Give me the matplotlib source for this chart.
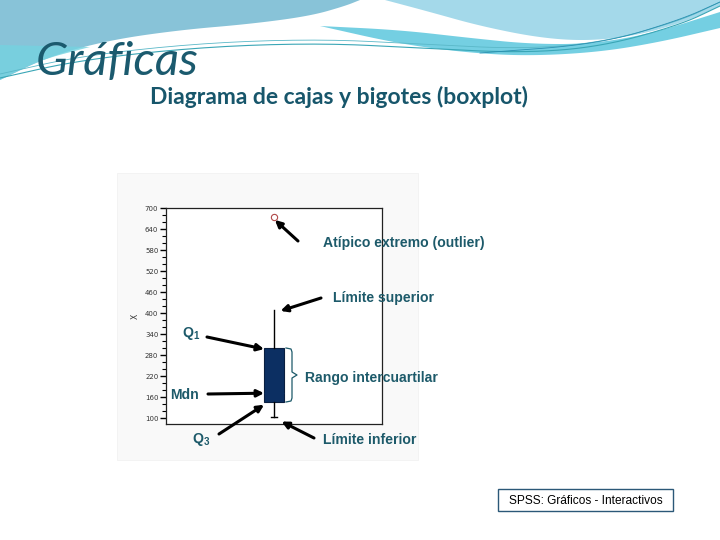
import matplotlib
matplotlib.use("Agg")
import matplotlib.pyplot as plt
from matplotlib.patches import Rectangle, Polygon
import numpy as np

# ---- data ----
whisker_low = 103
q_low = 146
median = 171
q_high = 300
whisker_high = 409
outliers = [674]
y_ticks = [100, 160, 220, 280, 340, 400, 460, 520, 580, 640, 700]
y_min, y_max = 83, 700

plt.rcParams['mathtext.fontset'] = 'custom'
plt.rcParams['mathtext.rm'] = 'Liberation Sans'
plt.rcParams['mathtext.bf'] = 'Liberation Sans:bold'
plt.rcParams['mathtext.default'] = 'regular'

W, H = 720, 540
fig = plt.figure(figsize=(7.2, 5.4), dpi=100)

def fx(px):
    return px / W

def fy(py):
    return 1 - py / H

def smooth(pts, n=4):
    """Chaikin smoothing of an open polyline (decoration only)."""
    p = np.asarray(pts, dtype=float)
    for _ in range(n):
        q = 0.75 * p[:-1] + 0.25 * p[1:]
        r = 0.25 * p[:-1] + 0.75 * p[1:]
        mid = np.empty((2 * len(q), 2))
        mid[0::2] = q
        mid[1::2] = r
        p = np.vstack([p[:1], mid, p[-1:]])
    return p

# ---- background decoration axes ----
bg = fig.add_axes([0, 0, 1, 1], zorder=0)
bg.set_xlim(0, W)
bg.set_ylim(H, 0)
bg.axis('off')

# top-left blue region
b1 = smooth([(0, 80), (50, 56), (110, 40), (180, 30), (250, 24), (310, 16), (345, 6), (360, 0)])
bg.add_patch(Polygon(np.vstack([b1, [[0, 0]]]), closed=True, facecolor='#88c3d8', edgecolor='none'))
# cyan lower-left tint
bg.add_patch(Polygon(np.vstack([[[0, 80]], smooth([(0, 80), (40, 60), (90, 47)]), [[0, 45]]]),
                     closed=True, facecolor='#74d3e0', edgecolor='none', alpha=0.8))

# cyan band top-right (tapering to the left)
band_top = smooth([(320, 26), (400, 30), (470, 38), (530, 44), (590, 44), (650, 34), (720, 12)])
band_bot = smooth([(320, 26), (400, 44), (470, 53), (530, 56), (600, 52), (660, 42), (720, 28)])
bg.add_patch(Polygon(np.vstack([band_top, band_bot[::-1]]), closed=True,
                     facecolor='#74cfe2', edgecolor='none'))
# light blue top-right region
t_edge = smooth([(385, 0), (430, 12), (480, 26), (540, 38), (590, 41), (640, 35), (690, 20), (720, 6)])
bg.add_patch(Polygon(np.vstack([t_edge, [[720, 0]]]), closed=True, facecolor='#a4d9ea', edgecolor='none'))
# thin teal lines
l1 = smooth([(0, 78), (80, 60), (200, 47), (320, 43), (420, 48), (520, 53), (600, 47), (680, 25), (720, 6)])
bg.plot(l1[:, 0], l1[:, 1], color='#3aa6b6', lw=0.8)
bg.plot(l1[:, 0], l1[:, 1] - 4, color='#5ab8c8', lw=0.6)
l2 = smooth([(480, 53), (600, 44), (680, 20), (720, 2)])
bg.plot(l2[:, 0], l2[:, 1], color='#2a8fb0', lw=0.6)

# chart image background
bg.add_patch(Rectangle((117, 173), 301, 287, facecolor='#f9f9f9', edgecolor='#f0f0f0', lw=0.5))

# ---- titles ----
bg.text(36, 62, 'Gráficas', fontsize=34, style='italic', family='Lato',
        color='#1b5a6e', va='center', ha='left')
bg.text(150, 97, 'Diagrama de cajas y bigotes (boxplot)', fontsize=16.5, weight='bold',
        family='Lato', color='#17566b', va='center', ha='left')

# SPSS box
bg.add_patch(Rectangle((498, 489), 175, 22, facecolor='white', edgecolor='#2b5878', lw=1))
bg.text(586, 500.5, 'SPSS: Gráficos - Interactivos', fontsize=8.6, family='Liberation Sans',
        color='black', ha='center', va='center')

# ---- boxplot axes ----
left, right, top, bottom = 166, 382, 208, 424
ax = fig.add_axes([fx(left), fy(bottom), (right - left) / W, (bottom - top) / H], zorder=2)
ax.set_facecolor('white')
stats = [dict(med=median, q1=q_low, q3=q_high, whislo=whisker_low, whishi=whisker_high,
              fliers=outliers)]
art = ax.bxp(stats, positions=[0.5], widths=0.088, patch_artist=True, capwidths=0.025,
             boxprops=dict(facecolor='#0c2f62', edgecolor='#0a1f40', lw=0.8),
             medianprops=dict(color='#0c2f62', lw=1),
             whiskerprops=dict(color='black', lw=1),
             capprops=dict(color='black', lw=1),
             flierprops=dict(marker='o', markersize=4.5, markerfacecolor='none',
                             markeredgecolor='#b04848', markeredgewidth=0.8))
art['caps'][1].set_visible(False)
ax.set_xlim(0, 1)
ax.set_ylim(y_min, y_max)
ax.set_xticks([])
ax.set_yticks(y_ticks)
ax.set_yticklabels([str(v) for v in y_ticks], fontsize=5, color='#333333', family='DejaVu Sans')
ax.set_yticks(np.arange(100, 701, 20), minor=True)
ax.tick_params(axis='y', which='major', length=4, width=1, pad=1.5)
ax.tick_params(axis='y', which='minor', length=3, width=0.8)
for s in ax.spines.values():
    s.set_linewidth(0.9)
    s.set_color('#222222')
ax.set_ylabel('X', fontsize=5.5, color='#333333', labelpad=4)

# ---- overlay annotations ----
ov = fig.add_axes([0, 0, 1, 1], zorder=5)
ov.set_xlim(0, W)
ov.set_ylim(H, 0)
ov.axis('off')
ov.patch.set_alpha(0)

tc = '#1d5a6a'
tfont = dict(fontsize=10.1, family='Liberation Sans', color=tc, weight='bold')
aprops = dict(arrowstyle='-|>', color='black', lw=2.2, mutation_scale=10,
              shrinkA=0, shrinkB=0)

ov.text(323, 243, 'Atípico extremo (outlier)', va='center', ha='left', **tfont)
ov.text(333, 298, 'Límite superior', va='center', ha='left', **tfont)
ov.text(305, 378, 'Rango intercuartilar', va='center', ha='left', **tfont)
ov.text(323, 440, 'Límite inferior', va='center', ha='left', **tfont)
ov.text(182, 333, 'Q$_1$', va='center', ha='left', **tfont)
ov.text(170, 395, 'Mdn', va='center', ha='left', **tfont)
ov.text(192, 440, 'Q$_3$', va='center', ha='left', **tfont)

half = 0.088 / 2
ov.annotate('', xy=(0.5 + 0.004, outliers[0] - 8), xycoords=ax.transData,
            xytext=(298, 241), textcoords=ov.transData, arrowprops=aprops)
ov.annotate('', xy=(0.5 + 0.03, whisker_high - 3), xycoords=ax.transData,
            xytext=(321, 298), textcoords=ov.transData, arrowprops=aprops)
ov.annotate('', xy=(0.5 - half - 0.002, q_high - 3), xycoords=ax.transData,
            xytext=(207, 337), textcoords=ov.transData, arrowprops=aprops)
ov.annotate('', xy=(0.5 - half - 0.002, median), xycoords=ax.transData,
            xytext=(208, 394), textcoords=ov.transData, arrowprops=aprops)
ov.annotate('', xy=(0.5 - half - 0.002, q_low - 8), xycoords=ax.transData,
            xytext=(219, 434), textcoords=ov.transData, arrowprops=aprops)
ov.annotate('', xy=(0.5 + 0.035, whisker_low - 13), xycoords=ax.transData,
            xytext=(314, 438), textcoords=ov.transData, arrowprops=aprops)

# curly bracket for interquartile range
bt, bb, bxl = 348, 402, 286
ov.plot([bxl, bxl + 5, bxl + 6, bxl + 6, bxl + 11, bxl + 6, bxl + 6, bxl + 5, bxl],
        [bt, bt + 1, bt + 4, (bt + bb) / 2 - 3, (bt + bb) / 2, (bt + bb) / 2 + 3, bb - 4, bb - 1, bb],
        color='#1d5a6a', lw=0.9)

fig.savefig('out.png', dpi=100)
